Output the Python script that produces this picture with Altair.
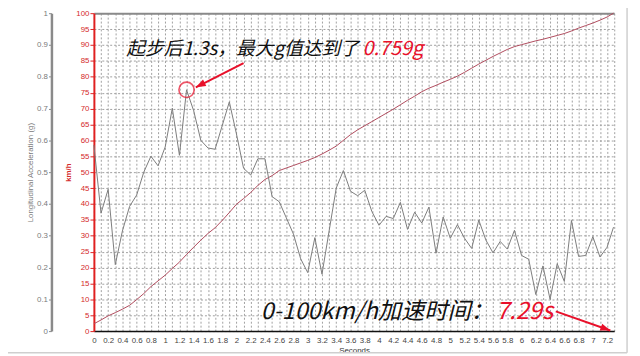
import altair as alt
import pandas as pd

# ---------------- data ----------------
seconds = [0.0, 0.1, 0.2, 0.3, 0.4, 0.5, 0.6, 0.7, 0.8, 0.9,
           1.0, 1.1, 1.2, 1.3, 1.4, 1.5, 1.6, 1.7, 1.8, 1.9,
           2.0, 2.1, 2.2, 2.3, 2.4, 2.5, 2.6, 2.7, 2.8, 2.9,
           3.0, 3.1, 3.2, 3.3, 3.4, 3.5, 3.6, 3.7, 3.8, 3.9,
           4.0, 4.1, 4.2, 4.3, 4.4, 4.5, 4.6, 4.7, 4.8, 4.9,
           5.0, 5.1, 5.2, 5.3, 5.4, 5.5, 5.6, 5.7, 5.8, 5.9,
           6.0, 6.1, 6.2, 6.3, 6.4, 6.5, 6.6, 6.7, 6.8, 6.9,
           7.0, 7.1, 7.2, 7.29]

accel_g = [0.585, 0.371, 0.446, 0.209, 0.315, 0.392, 0.428, 0.500, 0.550, 0.520,
           0.579, 0.701, 0.553, 0.759, 0.693, 0.600, 0.576, 0.572, 0.646, 0.721,
           0.620, 0.512, 0.491, 0.542, 0.542, 0.423, 0.407, 0.356, 0.305, 0.228,
           0.184, 0.294, 0.179, 0.315, 0.450, 0.505, 0.440, 0.426, 0.443, 0.376,
           0.333, 0.361, 0.354, 0.405, 0.320, 0.374, 0.340, 0.390, 0.245, 0.359,
           0.292, 0.335, 0.292, 0.260, 0.349, 0.286, 0.246, 0.282, 0.258, 0.317,
           0.238, 0.226, 0.115, 0.205, 0.100, 0.212, 0.156, 0.348, 0.235, 0.238,
           0.297, 0.233, 0.264, 0.327]

speed_kmh = [2.3, 3.5, 4.8, 5.8, 6.9, 8.1, 9.9, 11.8, 14.0, 15.8,
             17.6, 19.7, 21.7, 24.1, 26.4, 28.6, 30.7, 32.5, 34.8, 37.3,
             39.9, 41.7, 43.6, 45.8, 47.7, 48.9, 50.5, 51.3, 52.1, 52.9,
             53.7, 54.6, 55.7, 56.9, 58.2, 60.0, 61.8, 63.3, 64.6, 65.9,
             67.2, 68.5, 69.8, 71.2, 72.6, 73.9, 75.3, 76.4, 77.3, 78.3,
             79.2, 80.2, 81.4, 82.7, 84.0, 85.2, 86.4, 87.5, 88.6, 89.5,
             90.1, 90.7, 91.3, 91.8, 92.4, 93.0, 93.6, 94.4, 95.3, 96.1,
             96.9, 97.8, 98.8, 100.0]

x_label_ticks = [round(i * 0.2, 1) for i in range(37)]
x_grid_ticks = [round(i * 0.1, 1) for i in range(74)]
g_ticks = [round(i * 0.1, 1) for i in range(11)]
kmh_ticks = list(range(0, 101, 5))

peak_time = [1.3]
peak_value = [75.9]

arrow_t = [2.10, 6.48]
arrow_v = [84.3, 6.2]
arrow_t2 = [1.43, 7.245]
arrow_v2 = [76.7, 0.2]
arrow_angle = [243, 110]

note_black = ["起步后1.3s，最大g值达到了", "0-100km/h加速时间："]
note_red = ["0.759g", "7.29s"]
note_black_t = [3.72, 5.61]
note_red_t = [3.77, 5.64]
note_v = [88.8, 6.0]

# ---------------- build ----------------
df = pd.DataFrame({"t": seconds, "g": accel_g, "kmh": speed_kmh})
peak_df = pd.DataFrame({"t": peak_time, "v": peak_value})
arrow_df = pd.DataFrame({"t": arrow_t, "v": arrow_v, "t2": arrow_t2,
                         "v2": arrow_v2, "angle": arrow_angle})
top_black = pd.DataFrame({"t": note_black_t[:1], "v": note_v[:1], "label": note_black[:1]})
top_red = pd.DataFrame({"t": note_red_t[:1], "v": note_v[:1], "label": note_red[:1]})
bot_black = pd.DataFrame({"t": note_black_t[1:], "v": note_v[1:], "label": note_black[1:]})
bot_red = pd.DataFrame({"t": note_red_t[1:], "v": note_v[1:], "label": note_red[1:]})

x_scale = alt.Scale(domain=[0, 7.3], nice=False, zero=False)
kmh_scale = alt.Scale(domain=[0, 100], nice=False)
g_scale = alt.Scale(domain=[0, 1], nice=False)

RED = "#e8102a"
LABEL_FONT = "Liberation Sans"
CJK = "Noto Sans CJK SC"

gray_line = alt.Chart(df).mark_line(color="#7c7c7c", strokeWidth=1).encode(
    x=alt.X("t:Q", scale=x_scale, axis=alt.Axis(
        orient="bottom", values=x_label_ticks, format=".1~f", grid=False,
        domainColor="#111111", domainWidth=1.5, ticks=False,
        labelFontSize=8, labelColor="#444444", labelFont=LABEL_FONT,
        labelPadding=6, labelOverlap=False, labelFlush=False, labelBound=False,
        title="Seconds", titleFontSize=8, titleFontWeight="normal",
        titleColor="#333333", titleFont=LABEL_FONT, titlePadding=2)),
    y=alt.Y("g:Q", scale=g_scale, axis=alt.Axis(
        orient="left", offset=43, values=g_ticks, format=".1~f", grid=False,
        domainColor="#8a8a8a", domainWidth=2.5, tickColor="#8a8a8a", tickSize=3,
        labelFontSize=8, labelColor="#7a7a7a", labelFont=LABEL_FONT,
        labelPadding=1, labelOverlap=False,
        title="Longitudinal Acceleration (g)", titleFontSize=8,
        titleFontWeight="normal", titleColor="#7a7a7a", titleFont=LABEL_FONT,
        titlePadding=2)),
)

red_line = alt.Chart(df).mark_line(color="#b04a5c", strokeWidth=1).encode(
    x=alt.X("t:Q", scale=x_scale, axis=alt.Axis(
        orient="top", values=x_grid_ticks, grid=True, gridColor="#a0a0a0",
        gridDash=[2, 2], gridWidth=1, labels=False, ticks=False,
        domainColor="#8a8a8a", domainWidth=2, title=None)),
    y=alt.Y("kmh:Q", scale=kmh_scale, axis=alt.Axis(
        orient="left", values=kmh_ticks, grid=True, gridColor="#a0a0a0",
        gridDash=[2, 2], gridWidth=1,
        domainColor="#e02020", domainWidth=2, tickColor="#e02020", tickSize=4,
        labelFontSize=8, labelColor="#d42a2a", labelFont=LABEL_FONT,
        labelPadding=1, labelOverlap=False,
        title="km/h", titleFontSize=8, titleFontWeight="bold",
        titleColor="#d42a2a", titleFont=LABEL_FONT, titlePadding=3)),
)

def xq(field):
    return alt.X(field, type="quantitative", scale=x_scale, axis=None)

def yq(field):
    return alt.Y(field, type="quantitative", scale=kmh_scale, axis=None)

circle = alt.Chart(peak_df).mark_point(
    shape="circle", filled=False, color=RED, strokeWidth=1.6, size=240
).encode(x=xq("t"), y=yq("v"))

arrow_lines = alt.Chart(arrow_df).mark_rule(color=RED, strokeWidth=2).encode(
    x=xq("t"), y=yq("v"), x2="t2", y2="v2")

arrow_heads = alt.Chart(arrow_df).mark_point(
    shape="M0,0L0.55,1.5L-0.55,1.5Z", filled=True, color=RED, opacity=1, size=180
).encode(x=xq("t2"), y=yq("v2"), angle=alt.Angle("angle:Q", scale=None))

def note(data, color, size, align):
    return alt.Chart(data).mark_text(
        font=CJK, fontSize=size, fontStyle="italic", color=color,
        align=align, baseline="middle"
    ).encode(x=xq("t"), y=yq("v"), text="label:N")

frame_df = pd.DataFrame({"a": [0]})
frame_right = alt.Chart(frame_df).mark_rule(color="#cfcfcf", strokeWidth=1.5).encode(
    x=alt.value(540), y=alt.value(-11), y2=alt.value(344))
frame_bottom = alt.Chart(frame_df).mark_rule(color="#cfcfcf", strokeWidth=1.5).encode(
    x=alt.value(-95), x2=alt.value(540), y=alt.value(344))

chart = alt.layer(
    red_line, gray_line, circle, arrow_lines, arrow_heads,
    note(top_black, "#111111", 19, "right"), note(top_red, RED, 20, "left"),
    note(bot_black, "#111111", 23.5, "right"), note(bot_red, RED, 24, "left"),
    frame_right, frame_bottom,
).resolve_scale(y="independent").resolve_axis(x="independent").properties(
    width=527, height=322,
    autosize=alt.AutoSizeParams(type="none"),
    padding={"left": 87, "top": 3, "right": 18, "bottom": 26},
    background="white",
).configure_view(stroke=None)

chart.save("out.html", embed_options={"renderer": "svg", "actions": False})
